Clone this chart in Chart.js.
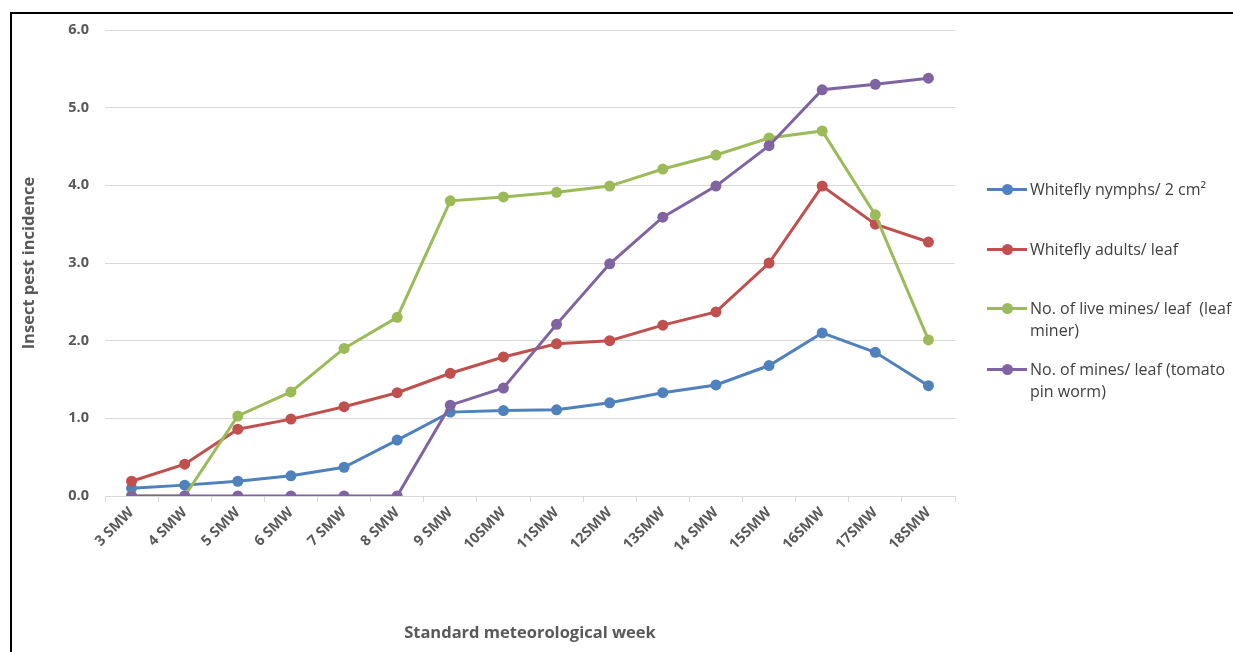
<!DOCTYPE html>
<html>
<head>
<meta charset="utf-8">
<script src="https://cdn.jsdelivr.net/npm/chart.js@4/dist/chart.umd.min.js"></script>
<style>
  html, body { margin: 0; padding: 0; background: #fff; overflow: hidden; }
  #wrap { position: relative; width: 1233px; height: 652px; }
  #frame { position: absolute; left: 10px; top: 12px; width: 1300px; height: 700px; border: 2px solid #000; }
  #myChart { position: absolute; left: 0; top: 0; }
  .leg { position: absolute; left: 987px; width: 246px; font-family: "Open Sans", sans-serif; font-size: 16px; color: #404040; line-height: 22px; }
  .leg .key { position: absolute; left: 0; top: 10px; width: 40px; height: 3px; }
  .leg .dot { position: absolute; left: 15px; top: -4px; width: 11px; height: 11px; border-radius: 50%; }
  .leg .txt { position: absolute; left: 43px; top: 0; width: 208px; white-space: pre-wrap; }
</style>
</head>
<body>
<div id="wrap">
  <div id="frame"></div>
  <canvas id="myChart" width="1233" height="652"></canvas>
  <div id="legend"></div>
</div>
<script>
const weeks = ["3 SMW", "4 SMW", "5 SMW", "6 SMW", "7 SMW", "8 SMW", "9 SMW", "10SMW",
  "11SMW", "12SMW", "13SMW", "14 SMW", "15SMW", "16SMW", "17SMW", "18SMW"];

const whiteflyNymphs = [0.10, 0.14, 0.19, 0.26, 0.37, 0.72, 1.08, 1.10, 1.11, 1.20, 1.33, 1.43, 1.68, 2.10, 1.85, 1.42];
const whiteflyAdults = [0.19, 0.41, 0.86, 0.99, 1.15, 1.33, 1.58, 1.79, 1.96, 2.00, 2.20, 2.37, 3.00, 3.99, 3.50, 3.27];
const liveMines = [0, 0, 1.03, 1.34, 1.90, 2.30, 3.80, 3.85, 3.91, 3.99, 4.21, 4.39, 4.61, 4.70, 3.62, 2.01];
const pinWormMines = [0, 0, 0, 0, 0, 0, 1.17, 1.39, 2.21, 2.99, 3.59, 3.99, 4.51, 5.23, 5.30, 5.38];

const seriesNames = ["Whitefly nymphs/ 2 cm\u00b2", "Whitefly adults/ leaf",
  "No. of live mines/ leaf  (leaf miner)", "No. of mines/ leaf (tomato pin worm)"];
const seriesColors = ["#4f81bd", "#c0504d", "#9bbb59", "#8064a2"];
const legendTops = [178, 238, 297, 358];

const allSeries = [whiteflyNymphs, whiteflyAdults, liveMines, pinWormMines];

const datasets = allSeries.map((vals, i) => ({
    label: seriesNames[i],
    data: vals,
    borderColor: seriesColors[i],
    backgroundColor: seriesColors[i],
    borderWidth: 3,
    pointRadius: 5.5,
    pointHoverRadius: 5.5,
    pointBorderWidth: 0,
    tension: 0,
    order: 4 - i
}));

const tickFont = { family: "'Open Sans', sans-serif", size: 14.5, weight: "bold" };
const titleFont = { family: "'Open Sans', sans-serif", size: 16.5, weight: "bold" };

new Chart(document.getElementById("myChart"), {
    type: "line",
    data: { labels: weeks, datasets: datasets },
    options: {
        responsive: false,
        animation: false,
        layout: { padding: { left: 10, right: 278, top: 30, bottom: 0 } },
        plugins: {
            legend: { display: false },
            tooltip: { enabled: false }
        },
        scales: {
            x: {
                offset: true,
                afterFit: s => { s.height = 156; },
                grid: { display: true, drawOnChartArea: false, drawTicks: true, tickLength: 6, offset: true, color: "#d9d9d9" },
                border: { display: true, color: "#d9d9d9", width: 1 },
                ticks: { color: "#595959", font: tickFont, minRotation: 45, maxRotation: 45, padding: 2 },
                title: { display: true, text: "Standard meteorological week", color: "#595959", font: titleFont, padding: { top: 0, bottom: 9 } }
            },
            y: {
                min: 0,
                max: 6,
                afterFit: s => { s.width = 95; },
                grid: { color: "#d9d9d9", drawTicks: false },
                border: { display: false },
                ticks: { stepSize: 1, color: "#595959", font: tickFont, padding: 16, callback: v => v.toFixed(1) },
                title: { display: true, text: "Insect pest incidence", color: "#595959", font: titleFont, padding: { top: 9, bottom: 0 } }
            }
        }
    }
});

// legend built from the datasets
const legendBox = document.getElementById("legend");
datasets.forEach((ds, i) => {
    const item = document.createElement("div");
    item.className = "leg";
    item.style.top = legendTops[i] + "px";
    item.innerHTML = '<div class="key" style="background:' + ds.borderColor + '"><div class="dot" style="background:' +
        ds.borderColor + '"></div></div><div class="txt">' + ds.label + '</div>';
    legendBox.appendChild(item);
});
</script>
</body>
</html>
